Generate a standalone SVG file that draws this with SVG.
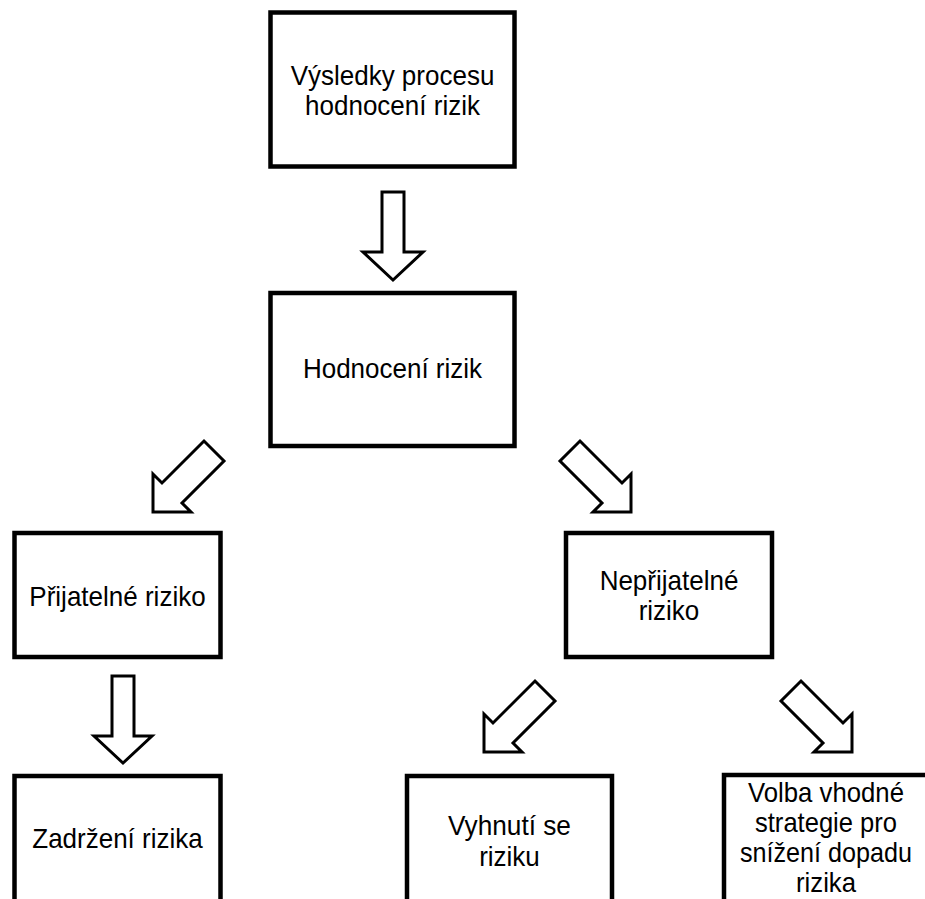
<svg xmlns="http://www.w3.org/2000/svg" width="925" height="899" viewBox="0 0 925 899">
<style>
.box{fill:#fff;stroke:#000;stroke-width:4.5}
.arr{fill:#fff;stroke:#000;stroke-width:3;stroke-linejoin:miter}
text{font-family:"Liberation Sans",Arial,sans-serif;font-size:28px;fill:#000;text-anchor:middle}
</style>
<rect width="925" height="899" fill="#fff"/>
<g id="connectors">
<polygon class="arr" points="382,192 404,192 404,252 423,252 393,280 363,252 382,252"/>
<polygon class="arr" points="153,512 153,474 162,483 204,441 224,461 182,503 191,512"/>
<polygon class="arr" points="631,512 631,474 622,483 580,441 560,461 602,503 593,512"/>
<polygon class="arr" points="112,676 134,676 134,736 152,736 123,763 94,736 112,736"/>
<polygon class="arr" points="484,752 484,714 493,723 535,681 555,701 513,743 522,752"/>
<polygon class="arr" points="852,752 852,714 843,723 801,681 781,701 823,743 814,752"/>
</g>
<g id="n1"><rect class="box" x="270.5" y="12.5" width="244" height="154"/><text x="392.5" y="85" textLength="203.7" lengthAdjust="spacingAndGlyphs">Výsledky procesu</text><text x="392.5" y="115" textLength="174.9" lengthAdjust="spacingAndGlyphs">hodnocení rizik</text></g>
<g id="n2"><rect class="box" x="270.5" y="293" width="244" height="153"/><text x="392.5" y="378" textLength="179.2" lengthAdjust="spacingAndGlyphs">Hodnocení rizik</text></g>
<g id="n3"><rect class="box" x="14.5" y="533" width="206" height="124"/><text x="117.5" y="606" textLength="176.3" lengthAdjust="spacingAndGlyphs">Přijatelné riziko</text></g>
<g id="n4"><rect class="box" x="566" y="533" width="206" height="124"/><text x="669" y="590" textLength="138.7" lengthAdjust="spacingAndGlyphs">Nepřijatelné</text><text x="669" y="620" textLength="60.7" lengthAdjust="spacingAndGlyphs">riziko</text></g>
<g id="n5"><rect class="box" x="14.5" y="776" width="206" height="200"/><text x="117.5" y="848" textLength="170.5" lengthAdjust="spacingAndGlyphs">Zadržení rizika</text></g>
<g id="n6"><rect class="box" x="407" y="776" width="205" height="200"/><text x="509.5" y="835" textLength="122.9" lengthAdjust="spacingAndGlyphs">Vyhnutí se</text><text x="509.5" y="866" textLength="60.7" lengthAdjust="spacingAndGlyphs">riziku</text></g>
<g id="n7"><rect class="box" x="724" y="775" width="210" height="200"/><text x="826" y="802" textLength="156" lengthAdjust="spacingAndGlyphs">Volba vhodné</text><text x="826" y="832" textLength="142" lengthAdjust="spacingAndGlyphs">strategie pro</text><text x="826" y="862" textLength="172" lengthAdjust="spacingAndGlyphs">snížení dopadu</text><text x="826" y="892" textLength="60" lengthAdjust="spacingAndGlyphs">rizika</text></g>
</svg>
